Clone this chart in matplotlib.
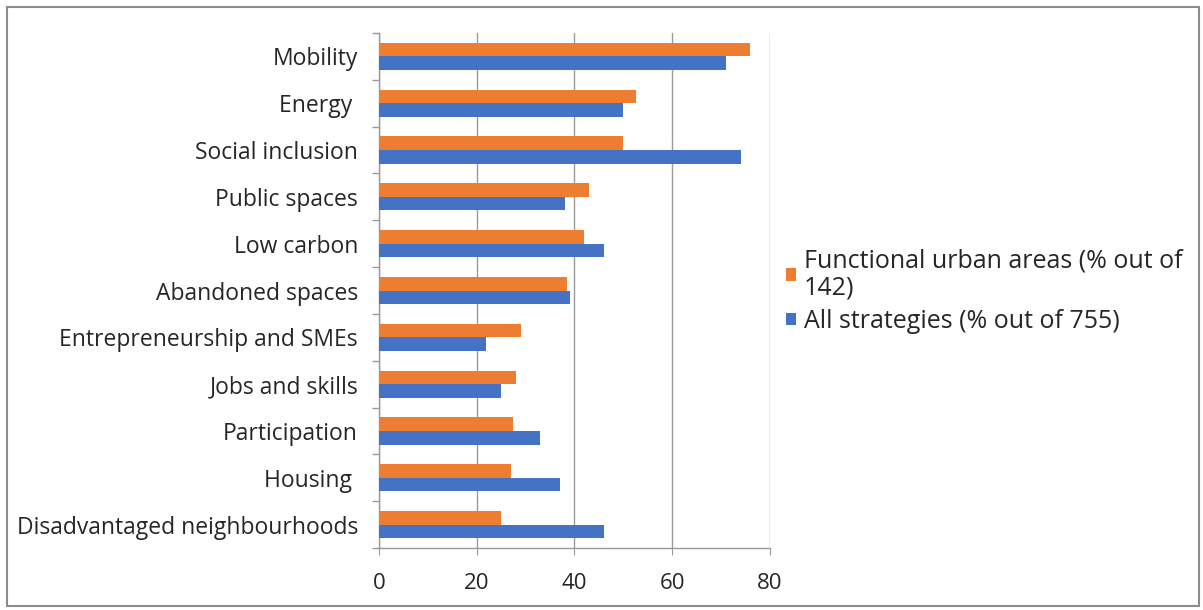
import numpy as np
import matplotlib
matplotlib.use("Agg")
import matplotlib.pyplot as plt
from matplotlib.patches import Rectangle

categories = [
    "Mobility", "Energy ", "Social inclusion", "Public spaces", "Low carbon",
    "Abandoned spaces", "Entrepreneurship and SMEs", "Jobs and skills",
    "Participation", "Housing ", "Disadvantaged neighbourhoods",
]
fua_pct = [76, 52.5, 50, 43, 42, 38.5, 29, 28, 27.5, 27, 25]
all_pct = [71, 50, 74, 38, 46, 39, 22, 25, 33, 37, 46]
fua_label = "Functional urban areas (% out of\n142)"
all_label = "All strategies (% out of 755)"
xticks = [0, 20, 40, 60, 80]

plt.rcParams["font.family"] = ["Open Sans", "DejaVu Sans"]
ORANGE = "#ED7D31"
BLUE = "#4472C4"
GRID = "#9a9a9a"
TEXT = "#262626"

fig = plt.figure(figsize=(12.03, 6.10), dpi=100)
ax = fig.add_axes([0.315, 0.1016, 0.325, 0.8443])

y = np.arange(len(categories))
h = 0.29
ax.barh(y - h / 2, fua_pct, height=h, color=ORANGE, label=fua_label, zorder=3)
ax.barh(y + h / 2, all_pct, height=h, color=BLUE, label=all_label, zorder=3)

ax.set_ylim(len(categories) - 0.5, -0.5)
ax.set_xlim(0, 80)
ax.set_xticks(xticks)
ax.set_yticks(y)
ax.set_yticklabels(categories)
ax.set_yticks(np.arange(len(categories) + 1) - 0.5, minor=True)
ax.tick_params(axis="y", which="major", length=0, pad=15, labelsize=16.5,
               labelcolor=TEXT)
ax.tick_params(axis="y", which="minor", length=5, color=GRID, width=1)
ax.tick_params(axis="x", length=5, color=GRID, labelsize=16, pad=13,
               labelcolor=TEXT)

ax.grid(axis="x", color=GRID, linewidth=1, zorder=0)
for side in ("top", "right"):
    ax.spines[side].set_visible(False)
for side in ("left", "bottom"):
    ax.spines[side].set_color(GRID)
    ax.spines[side].set_linewidth(1)

leg = fig.legend(loc="upper left", bbox_to_anchor=(0.635, 0.630),
                 frameon=False, fontsize=18, handlelength=0.4,
                 handleheight=0.4, handletextpad=0.3, labelspacing=0.35,
                 labelcolor=TEXT)
leg.get_texts()[0].set_linespacing(1.1)

# outer chart frame
fig.patches.append(Rectangle((0.006, 0.006), 0.991, 0.983,
                             transform=fig.transFigure, fill=False,
                             edgecolor="#8c8c8c", linewidth=1.5))

fig.savefig("out.png", dpi=100)
